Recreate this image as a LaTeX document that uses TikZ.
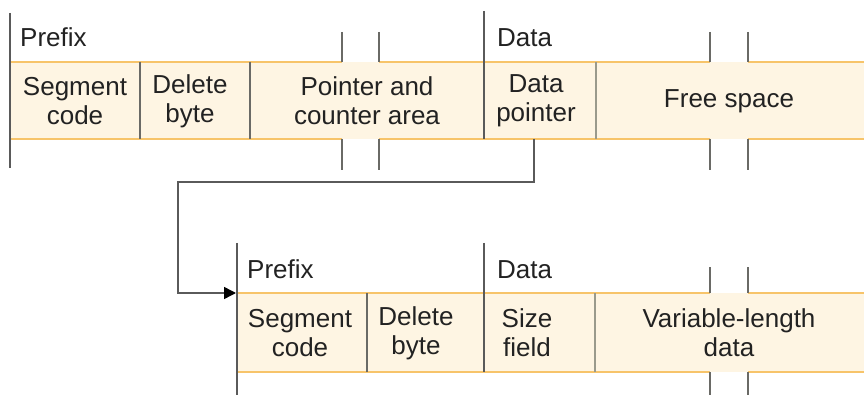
\documentclass[tikz,border=0pt]{standalone}
\usepackage{fontspec}
\setmainfont{Liberation Sans}
\usetikzlibrary{arrows.meta}
\definecolor{cellfill}{HTML}{FEF5E3}
\definecolor{cellborder}{HTML}{F7C46A}
\definecolor{rulegray}{HTML}{5A5A5A}
\definecolor{divgray}{HTML}{6A6A66}
\definecolor{softdiv}{HTML}{9A9A8C}
\definecolor{txt}{HTML}{222222}
\tikzset{
  lbl/.style={font=\fontsize{26}{29}\selectfont, text=txt, align=center, inner sep=0pt},
  hdr/.style={font=\fontsize{26}{29}\selectfont, text=txt, anchor=base west, inner sep=0pt},
  edge/.style={draw=rulegray, line width=1.5pt},
  divider/.style={draw=divgray, line width=1.6pt},
  softdivider/.style={draw=softdiv, line width=2.6pt},
  tick/.style={draw=divgray, line width=1.6pt},
  border/.style={draw=cellborder, line width=2pt},
  conn/.style={draw=rulegray, line width=1.5pt},
}
\begin{document}
\begin{tikzpicture}[x=1pt,y=-1pt]
\useasboundingbox (0,0) rectangle (864,395);
% ---------- top row ----------
\fill[cellfill] (10,62) rectangle (864,139);
\draw[border] (10,62) -- (342,62) (379,62) -- (710,62) (748,62) -- (864,62);
\draw[border] (10,139) -- (342,139) (379,139) -- (710,139) (748,139) -- (864,139);
\draw[edge] (10,13) -- (10,168);
\draw[divider] (140,62) -- (140,139);
\draw[divider] (250,62) -- (250,139);
\draw[edge] (484,11) -- (484,139);
\draw[softdivider] (596,62) -- (596,139);
\foreach \x in {342,379,710,748}{
  \draw[tick] (\x,32) -- (\x,62);
  \draw[tick] (\x,139) -- (\x,170);
}
\node[hdr] (p1) at (20,47) {Prefix};
\node[hdr] (d1) at (497,47) {Data};
\node[lbl] (seg1) at (75,101) {Segment\\code};
\node[lbl] (del1) at (190,101) {Delete\\byte};
\node[lbl] (pca) at (367,101) {Pointer and\\counter area};
\node[lbl] (dptr) at (536,101) {Data\\pointer};
\node[lbl] (free) at (729,101) {Free space};
% ---------- bottom row ----------
\fill[cellfill] (237,293) rectangle (864,372);
\draw[border] (237,293) -- (710,293) (748,293) -- (864,293);
\draw[border] (237,372) -- (710,372) (748,372) -- (864,372);
\draw[edge] (237,243) -- (237,395);
\draw[divider] (367,293) -- (367,372);
\draw[edge] (484,243) -- (484,372);
\draw[softdivider] (595,293) -- (595,372);
\foreach \x in {710,748}{
  \draw[tick] (\x,267) -- (\x,293);
  \draw[tick] (\x,372) -- (\x,395);
}
\node[hdr] (p2) at (247,278) {Prefix};
\node[hdr] (d2) at (497,278) {Data};
\node[lbl] (seg2) at (300,333) {Segment\\code};
\node[lbl] (del2) at (416,333) {Delete\\byte};
\node[lbl] (size) at (527,333) {Size\\field};
\node[lbl] (var) at (729,333) {Variable-length\\data};
% ---------- connector ----------
\coordinate (cstart) at (534,139);
\coordinate (cend) at (236,293);
\draw[conn, -{Triangle[length=12pt,width=12pt,fill=black,color=black]}] (cstart) -- (534,182) -- (178,182) -- (178,293) -- (cend);
\end{tikzpicture}
\end{document}
